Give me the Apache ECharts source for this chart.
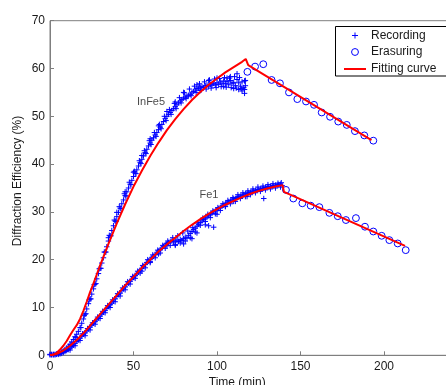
<!DOCTYPE html>
<html>
<head>
<meta charset="utf-8">
<script src="https://cdn.jsdelivr.net/npm/echarts@6/dist/echarts.min.js"></script>
<style>html,body{margin:0;padding:0;background:#fff;}#chart{width:446px;height:385px;}</style>
</head>
<body>
<div id="chart"></div>
<script>
// ---- data ----
const xTicks = [0, 50, 100, 150, 200, 250];
const yTicks = [0, 10, 20, 30, 40, 50, 60, 70];

const infe5Recording = [
[0,0.2],[1,0.2],[2,0.2],[3,0.2],[4,0.3],[5,0.4],[6,0.5],[7,0.7],[8,0.9],[9,1.2],
[10,1.5],[11,1.9],[12,2.3],[13,2.8],[14,3.3],[15,3.9],[16,4.4],[17,5.0],[18,5.8],[19,6.7],
[20,7.6],[21,8.6],[22,9.7],[23,10.8],[24,11.8],[25,12.8],[26,13.9],[27,14.9],[28,16.0],[29,17.1],
[30,18.2],[31,19.3],[32,20.4],[33,21.6],[34,22.7],[35,23.9],[36,25.0],[37,26.1],[38,27.1],[39,28.1],
[40,29.0],[41,29.9],[42,30.8],[43,31.7],[44,32.5],[45,33.4],[46,34.2],[47,35.0],[48,35.8],[49,36.6],
[50,37.4],[51,38.1],[52,38.8],[53,39.6],[54,40.3],[55,41.0],[56,41.7],[57,42.4],[58,43.1],[59,43.8],
[60,44.4],[61,45.0],[62,45.5],[63,46.1],[64,46.6],[65,47.2],[66,47.7],[67,48.3],[68,48.9],[69,49.5],
[70,50.0],[71,50.4],[72,50.8],[73,51.2],[74,51.6],[75,52.0],[76,52.4],[77,52.8],[78,53.2],[79,53.5],
[80,53.8],[81,54.0],[82,54.2],[83,54.4],[84,54.6],[85,54.9],[86,55.2],[87,55.5],[88,55.8],[89,55.9],
[90,56.1],[91,56.2],[92,56.0],[93,56.4],[94,56.5],[95,56.3],[96,56.7],[97,56.5],[98,56.9],[99,56.6],
[100,57.0],[101,56.7],[102,57.2],[103,56.8],[104,57.4],[105,56.9],[106,57.3],[107,56.6],[108,57.5],[109,56.9],
[110,57.1],[111,56.4],[112,57.7],[113,57.0],[114,56.3],[115,57.2],[116,56.0],[117,56.4]
];
// upper and lower edge of the dense InFe5 recording band
const infe5RecordingUpper = [
[20.5,8.3],[23.5,11.6],[26.5,14.8],[29.5,18.1],[32.5,21.6],[35.5,25.1],[38.5,28.3],[41.5,31.1],[44.5,33.8],
[47.5,36.2],[50.5,38.5],[53.5,40.7],[56.5,42.8],[59.5,44.9],[62.5,46.6],[65.5,48.3],[68.5,50.0],[71.5,51.4],
[74.5,52.7],[77.5,53.9],[80.5,54.9],[83.5,55.7],[86.5,56.3],[89.5,56.8],[92.5,57.2],[95.5,57.6],[98.5,57.8],
[101.5,57.9],[104.5,58.1],[107.5,58.0],[110.5,58.3],[113.5,58.1],[116.5,57.4]
];
const infe5RecordingLower = [
[12.5,2.2],[15.5,3.7],[18.5,5.8],[21.5,8.7],[24.5,11.8],[27.5,15.0],[30.5,18.2],[33.5,21.6],[36.5,25.0],
[39.5,28.0],[42.5,30.7],[45.5,33.3],[48.5,35.7],[51.5,38.0],[54.5,40.1],[57.5,42.2],[60.5,44.1],[63.5,45.8],
[66.5,47.4],[69.5,49.1],[72.5,50.4],[75.5,51.6],[78.5,52.8],[81.5,53.7],[84.5,54.3],[87.5,55.0],[90.5,55.5],
[93.5,55.7],[96.5,55.9],[99.5,56.0],[102.5,56.2],[105.5,56.1],[108.5,56.0],[111.5,55.9],[114.5,55.8],[116.5,55.6]
];
const infe5RecordingScatter = [
[35,24.6],[40,29.9],[45,34.2],[50,38.3],[55,41.8],[60,45.3],[65,48.0],[70,51.0],[75,53.0],[80,55.0],
[88,56.6],[90,55.4],[95,57.5],[100,58.0],[104,56.2],[106,58.0],[108,58.3],[110,55.8],[112,58.9],
[113,55.6],[115,55.3],[116.5,54.8],[117,57.5]
];
const infe5Erasing = [
[118.2,59.3],[122.8,60.4],[127.7,60.9],[132.7,57.6],[137.7,56.9],[143.1,55.0],[148.1,53.6],[153.3,53.1],
[158.1,52.4],[162.7,50.8],[167.7,49.9],[172.6,48.9],[177.7,48.2],[182.6,46.9],[188.2,46.0],[193.6,44.9]
];
const infe5Fit = [
[0,0],[2,0.1],[4,0.5],[6,1.2],[8,2.0],[10,3.0],[12,4.2],[14,5.3],[16,6.3],[18,7.6],[20,9.3],
[22,11.2],[24,13.2],[26,15.0],[28,16.9],[30,18.8],[32,20.6],[35,23.3],[40,27.6],[45,31.6],[50,35.3],
[55,38.6],[60,41.7],[65,44.5],[70,47.1],[75,49.4],[80,51.5],[85,53.4],[90,55.1],[95,56.6],[100,57.9],
[105,59.2],[110,60.3],[115,61.4],[117.2,62.0],[118.7,60.7],[192.5,45.0]
];

const fe1Recording = [
[0,0.1],[1,0.1],[2,0.1],[3,0.1],[4,0.2],[5,0.2],[6,0.3],[7,0.4],[8,0.6],[9,0.8],
[10,1.0],[11,1.2],[12,1.5],[13,1.8],[14,2.1],[15,2.5],[16,2.9],[17,3.2],[18,3.6],[19,4.0],
[20,4.4],[21,4.7],[22,5.1],[23,5.5],[24,5.9],[25,6.3],[26,6.7],[27,7.1],[28,7.4],[29,7.8],
[30,8.2],[31,8.6],[32,9.0],[33,9.4],[34,9.8],[35,10.2],[36,10.6],[37,10.9],[38,11.3],[39,11.8],
[40,12.3],[41,12.7],[42,13.0],[43,13.5],[44,13.9],[45,14.3],[46,14.8],[47,15.1],[48,15.5],[49,15.9],
[50,16.3],[51,16.7],[52,17.0],[53,17.4],[54,17.8],[55,18.2],[56,18.6],[57,19.0],[58,19.4],[59,19.7],
[60,20.1],[61,20.4],[62,20.7],[63,21.1],[64,21.4],[65,21.8],[66,22.1],[67,22.4],[68,22.8],[69,23.1],
[70,23.4],[71,23.6],[72,23.8],[73,23.9],[74,23.7],[75,23.9],[76,24.1],[77,23.8],[78,24.2],[79,24.0],
[80,24.4],[81,24.7],[82,24.5],[83,25.1],[84,25.5],[85,25.9],[86,26.3],[87,26.6],[88,27.0],[89,27.4],
[90,27.8],[91,28.1],[92,28.4],[93,28.7],[94,28.9],[95,29.2],[96,29.5],[97,29.7],[98,30.0],[99,30.2],
[100,30.4],[101,30.7],[102,30.9],[103,31.2],[104,31.4],[105,31.7],[106,31.9],[107,32.1],[108,32.3],[109,32.5],
[110,32.7],[111,32.8],[112,33.0],[113,33.2],[114,33.3],[115,33.4],[116,33.6],[117,33.8],[118,33.9],[119,34.0],
[120,34.1],[121,34.3],[122,34.4],[123,34.5],[124,34.6],[125,34.7],[126,34.8],[127,34.9],[128,35.0],[129,35.1],
[130,35.2],[131,35.3],[132,35.3],[133,35.4],[134,35.5],[135,35.6],[136,35.6],[137,35.7],[138,35.8],[139,35.5]
];
const fe1RecordingUpper = [
[10.5,1.3],[13.5,2.2],[16.5,3.3],[19.5,4.5],[22.5,5.6],[25.5,6.8],[28.5,8.0],[31.5,9.2],[34.5,10.4],[37.5,11.6],
[40.5,12.9],[43.5,14.1],[46.5,15.4],[49.5,16.5],[52.5,17.6],[55.5,18.8],[58.5,20.0],[61.5,21.0],[64.5,22.0],
[67.5,23.0],[70.5,23.9],[73.5,24.6],[76.5,25.0],[79.5,25.6],[82.5,26.0],[85.5,26.7],[88.5,27.7],[91.5,28.7],
[94.5,29.5],[97.5,30.2],[100.5,30.9],[103.5,31.7],[106.5,32.4],[109.5,33.0],[112.5,33.6],[115.5,34.0],
[118.5,34.4],[121.5,34.8],[124.5,35.2],[127.5,35.4],[130.5,35.7],[133.5,35.9],[136.5,36.0],[138.5,36.1]
];
const fe1RecordingLower = [
[12,1.1],[15,2.0],[18,3.1],[21,4.1],[24,5.3],[27,6.5],[30,7.7],[33,8.9],[36,10.0],[39,11.2],[42,12.4],
[45,13.7],[48,14.9],[51,16.1],[54,17.2],[57,18.3],[60,19.4],[63,20.4],[66,21.4],[69,22.4],[72,23.0],
[75,23.2],[78,23.5],[81,23.9],[84,24.6],[87,25.8],[90,27.2],[93,28.0],[96,28.8],[99,29.6],[102,30.3],
[105,31.1],[108,31.7],[111,32.2],[114,32.8],[117,33.2],[120,33.6],[123,34.0],[126,34.3],[129,34.6],
[132,34.8],[135,35.0],[138,35.2]
];
const fe1RecordingScatter = [
[55,17.6],[60,19.6],[65,21.2],[70,22.9],[75,23.0],[80,23.3],[85,24.4],[88,25.6],[93,27.3],[95,27.1],
[98,26.8],[100,29.5],[105,31.2],[110,32.2],[118,33.2],[128,32.8]
];
const fe1Erasing = [
[141.3,34.6],[145.7,32.8],[151.1,31.8],[156.1,31.3],[161.3,31.0],[167.3,29.8],[172.3,29.1],[177.2,28.3],
[183.2,28.7],[188.6,26.9],[193.6,25.9],[198.6,25.0],[203.2,24.1],[208.2,23.4],[213.0,22.0]
];
const fe1Fit = [
[0,0],[4,0.3],[8,1.0],[12,2.0],[16,3.2],[20,4.6],[25,6.6],[30,8.6],[35,10.6],[40,12.6],[45,14.6],
[50,16.4],[55,18.3],[60,20.0],[65,21.7],[70,23.2],[75,24.6],[80,26.0],[85,27.3],[90,28.5],[95,29.6],
[100,30.6],[105,31.5],[110,32.3],[115,33.1],[120,33.8],[125,34.4],[130,34.9],[135,35.3],[139.3,35.6],
[140.1,34.2],[212.6,22.9]
];

const annotations = [
  {name: 'InFe5', value: [60.5, 53.0]},
  {name: 'Fe1', value: [95.2, 33.5]}
];
const legendNames = ['Recording', 'Erasuring', 'Fitting curve'];

// ---- chart ----
const FONT = 'Liberation Sans, Arial, Helvetica, sans-serif';
const TXT = '#1a1a1a';
const AX = '#7f7f7f';
const BLUE = '#0000ff';
const RED = '#ff0000';
const PLUS = 'path://M-10,-10M10,10M0,-5L0,5M-5,0L5,0';
const RING = 'path://M-7,-7M7,7M4,0A4,4,0,1,1,-4,0A4,4,0,1,1,4,0Z';
const LINEICON = 'path://M0,0M22,12M0,6L22,6';

const chart = echarts.init(document.getElementById('chart'), null, {renderer: 'canvas'});

function recSeries(data) {
  return {
    name: legendNames[0], type: 'scatter', data: data,
    symbol: PLUS, symbolSize: 11, z: 2,
    itemStyle: {color: 'rgba(0,0,0,0)', borderColor: BLUE, borderWidth: 1, opacity: 1},
    emphasis: {disabled: true}, silent: true
  };
}
function eraSeries(data) {
  return {
    name: legendNames[1], type: 'scatter', data: data,
    symbol: RING, symbolSize: 12, z: 2,
    itemStyle: {color: 'rgba(0,0,0,0)', borderColor: BLUE, borderWidth: 1, opacity: 1},
    emphasis: {disabled: true}, silent: true
  };
}
function fitSeries(data) {
  return {
    name: legendNames[2], type: 'line', data: data,
    symbol: 'none', showSymbol: false, smooth: false, z: 4,
    lineStyle: {color: RED, width: 2},
    itemStyle: {color: RED},
    emphasis: {disabled: true}, silent: true
  };
}

chart.setOption({
  animation: false,
  backgroundColor: '#ffffff',
  grid: {left: 50, top: 20.7, right: -21.5, bottom: 29.7, containLabel: false, outerBoundsMode: 'none',
    show: true, borderColor: AX, borderWidth: 1, backgroundColor: 'transparent'},
  graphic: [{
    type: 'rect', z: 10, silent: true,
    shape: {x: 335.5, y: 26.5, width: 200, height: 49.5},
    style: {fill: '#ffffff', stroke: '#000000', lineWidth: 1}
  }],
  legend: {
    z: 20,
    data: [
      {name: legendNames[0]},
      {name: legendNames[1]},
      {name: legendNames[2], icon: LINEICON, itemStyle: {color: 'rgba(0,0,0,0)', borderColor: RED, borderWidth: 2}}
    ],
    orient: 'vertical',
    left: 335, top: 26,
    padding: [3, 10, 4, 8],
    itemGap: 3.5,
    itemWidth: 22, itemHeight: 12,
    backgroundColor: 'transparent',
    borderWidth: 0,
    selectedMode: false,
    itemStyle: {borderWidth: 1},
    textStyle: {fontFamily: FONT, fontSize: 12, color: TXT}
  },
  xAxis: {
    type: 'value', min: xTicks[0], max: xTicks[xTicks.length - 1], interval: xTicks[1] - xTicks[0],
    name: 'Time (min)', nameLocation: 'middle', nameGap: 21, nameMoveOverlap: false,
    nameTextStyle: {fontFamily: FONT, fontSize: 12, color: TXT, padding: [0, 43, 0, 0]},
    axisLine: {show: true, lineStyle: {color: AX, width: 1}},
    axisTick: {show: true, inside: true, length: 4, lineStyle: {color: AX}},
    axisLabel: {fontFamily: FONT, fontSize: 12, color: TXT, margin: 5,
      formatter: v => xTicks.indexOf(v) >= 0 && v < 250 ? String(v) : ''},
    splitLine: {show: false}
  },
  yAxis: {
    type: 'value', min: yTicks[0], max: yTicks[yTicks.length - 1], interval: yTicks[1] - yTicks[0],
    name: 'Diffraction Efficiency (%)', nameLocation: 'middle', nameGap: 26, nameMoveOverlap: false,
    nameTextStyle: {fontFamily: FONT, fontSize: 12, color: TXT, padding: [0, 0, 0, 14]},
    axisLine: {show: true, lineStyle: {color: AX, width: 1}},
    axisTick: {show: true, inside: true, length: 4, lineStyle: {color: AX}},
    axisLabel: {fontFamily: FONT, fontSize: 12, color: TXT, margin: 5},
    splitLine: {show: false}
  },
  series: [
    recSeries(infe5Recording.concat(infe5RecordingUpper, infe5RecordingLower, infe5RecordingScatter)),
    recSeries(fe1Recording.concat(fe1RecordingUpper, fe1RecordingLower, fe1RecordingScatter)),
    eraSeries(infe5Erasing),
    eraSeries(fe1Erasing),
    fitSeries(infe5Fit),
    fitSeries(fe1Fit),
    {
      name: 'labels', type: 'scatter', data: annotations, symbolSize: 0, z: 5, silent: true,
      label: {show: true, position: 'inside', formatter: p => p.name,
        fontFamily: FONT, fontSize: 11, color: TXT}
    }
  ]
});
</script>
</body>
</html>
